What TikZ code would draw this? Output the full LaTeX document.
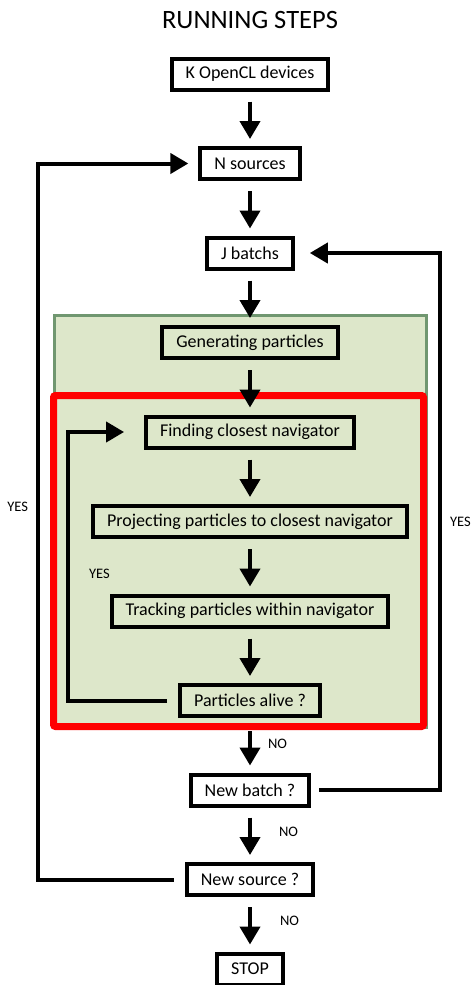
\documentclass[tikz,border=0pt]{standalone}
\usepackage{fontspec}
\setmainfont{Carlito}
\usetikzlibrary{arrows, arrows.meta, backgrounds}
\definecolor{leafgreen}{RGB}{221,231,202}
\definecolor{leafedge}{RGB}{112,151,112}
\tikzstyle{arrow} = [line width=4pt,-{Triangle[length=18pt,width=20pt]},shorten <=10pt,shorten >=7pt]
\tikzstyle{loopline} = [line width=4pt,-{Triangle[length=18pt,width=20pt]}]
\tikzstyle{stepbox} = [line width=4pt,draw=black,rectangle,minimum height=31pt,inner xsep=14pt,font=\fontsize{18}{21}\selectfont]
\tikzstyle{tag} = [inner sep=0pt,font=\fontsize{14.5}{16}\selectfont]

\begin{document}
\begin{tikzpicture}[x=1pt,y=-1pt,node distance=89.5pt]
	\useasboundingbox (0,0) rectangle (472,985);
	\node[font=\fontsize{26.5}{30}\selectfont] (title) at (250,20) {RUNNING STEPS};
	\node[stepbox] (devices) at (250,74) {K OpenCL devices};
	\node[stepbox, below of=devices] (sources) {N sources};
	\node[stepbox, below of=sources] (batchs) {J batchs};
	\node[stepbox, below of=batchs] (generating) {Generating particles};
	\node[stepbox, below of=generating] (finding) {Finding closest navigator};
	\node[stepbox, below of=finding] (projecting) {Projecting particles to closest navigator};
	\node[stepbox, below of=projecting] (tracking) {Tracking particles within navigator};
	\node[stepbox, below of=tracking] (alive) {Particles alive ?};
	\node[stepbox, below of=alive] (batch) {New batch ?};
	\node[stepbox, below of=batch] (source) {New source ?};
	\node[stepbox, below of=source] (stop) {STOP};
	
	% zones behind the boxes
	\begin{scope}[on background layer]
		\draw[line width=3pt, draw=leafedge, fill=leafgreen] (54.5,315.5) rectangle (426.5,727);
		\draw[line width=7pt, draw=red, fill=leafgreen, rounded corners=2pt] (53.5,395.5) rectangle (423.5,726.5);
	\end{scope}
	
	\coordinate (leftrail) at (38,0);
	\coordinate (rightrail) at (440,0);
	\coordinate (innerrail) at (68,0);
	
	\draw[arrow] (devices) -- (sources);
	\draw[arrow] (sources) -- (batchs);
	\draw[arrow] (batchs) -- (generating);
	\draw[arrow] (generating) -- (finding);
	\draw[arrow] (finding) -- (projecting);
	\draw[arrow] (projecting) -- (tracking);
	\draw[arrow] (tracking) -- (alive);
	\draw[arrow, shorten <=13pt] (alive) -- node[tag, pos=.47, right=16pt] {NO} (batch);
	\draw[arrow] (batch) -- node[tag, pos=.45, right=27pt] {NO} (source);
	\draw[arrow] (source) -- node[tag, pos=.44, right=28pt] {NO} (stop);
	
	% YES loops
	\draw[loopline, shorten <=11pt, shorten >=20pt] (alive.west) -- (alive.west -| innerrail) -- node[tag, pos=.47, right=19pt] {YES} (finding.west -| innerrail) -- (finding.west);
	\draw[loopline, shorten <=8pt, shorten >=15pt] (batch.east) -- (batch.east -| rightrail) -- node[tag, right=8pt] {YES} (batchs.east -| rightrail) -- (batchs.east);
	\draw[loopline, shorten <=11pt, shorten >=10pt] (source.west) -- (source.west -| leftrail) -- node[tag, pos=.52, left=8pt] {YES} (sources.west -| leftrail) -- (sources.west);
\end{tikzpicture}
\end{document}
